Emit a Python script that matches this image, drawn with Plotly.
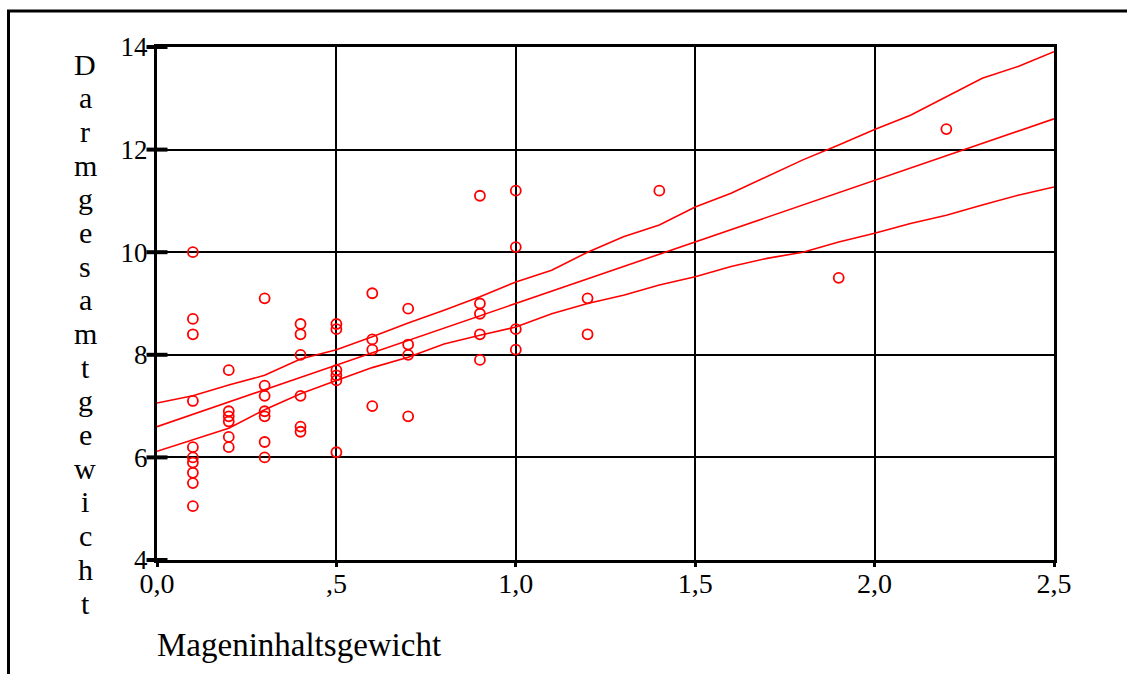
import plotly.graph_objects as go

# ---- data ----
pt_x = [0.1]*10 + [0.2]*6 + [0.3]*7 + [0.4]*6 + [0.5]*6 + [0.6]*4 + [0.7]*4 + [0.9]*5 + [1.0]*4 + [1.2]*2 + [1.4, 1.9, 2.2]
pt_y = [10.0, 8.7, 8.4, 7.1, 6.2, 6.0, 5.9, 5.7, 5.5, 5.05,
        7.7, 6.9, 6.8, 6.7, 6.4, 6.2,
        9.1, 7.4, 7.2, 6.9, 6.8, 6.3, 6.0,
        8.6, 8.4, 8.0, 7.2, 6.6, 6.5,
        8.6, 8.5, 7.7, 7.6, 7.5, 6.1,
        9.2, 8.3, 8.1, 7.0,
        8.9, 8.2, 8.0, 6.8,
        11.1, 9.0, 8.8, 8.4, 7.9,
        11.2, 10.1, 8.5, 8.1,
        9.1, 8.4,
        11.2, 9.5, 12.4]

fit_x = [0.0, 2.5]
fit_y = [6.6, 12.6]

band_x = [0.0, 0.1, 0.2, 0.3, 0.4, 0.5, 0.6, 0.7, 0.8, 0.9, 1.0, 1.1, 1.2,
          1.3, 1.4, 1.5, 1.6, 1.7, 1.8, 1.9, 2.0, 2.1, 2.2, 2.3, 2.4, 2.5]
band_upper = [7.06, 7.2, 7.41, 7.6, 7.92, 8.1, 8.35, 8.62, 8.87, 9.13, 9.42, 9.65, 10.0,
              10.3, 10.53, 10.88, 11.15, 11.47, 11.8, 12.09, 12.39, 12.67, 13.03, 13.39, 13.62, 13.91]
band_lower = [6.12, 6.35, 6.57, 6.93, 7.24, 7.5, 7.75, 7.95, 8.21, 8.38, 8.54, 8.8, 9.0,
              9.16, 9.36, 9.52, 9.72, 9.88, 10.0, 10.2, 10.37, 10.56, 10.72, 10.92, 11.11, 11.27]

x_ticks = [0.0, 0.5, 1.0, 1.5, 2.0, 2.5]
x_labels = ["0,0", ",5", "1,0", "1,5", "2,0", "2,5"]
y_ticks = [4, 6, 8, 10, 12, 14]
y_labels = ["4", "6", "8", "10", "12", "14"]

x_title = "Mageninhaltsgewicht"
y_title = "Darmgesamtgewicht"

FONT = "Liberation Serif, Times New Roman, serif"
RED = "#ff0000"

fig = go.Figure()
# y tick marks (thick dashes across the axis)
fig.add_trace(go.Scatter(x=[0]*len(y_ticks), y=y_ticks, mode="markers",
                         marker=dict(symbol="line-ew", size=15, line=dict(width=4, color="black")),
                         cliponaxis=False, hoverinfo="skip", showlegend=False))
fig.add_trace(go.Scatter(x=band_x, y=band_upper, mode="lines",
                         line=dict(color=RED, width=1.6), showlegend=False))
fig.add_trace(go.Scatter(x=fit_x, y=fit_y, mode="lines",
                         line=dict(color=RED, width=1.6), showlegend=False))
fig.add_trace(go.Scatter(x=band_x, y=band_lower, mode="lines",
                         line=dict(color=RED, width=1.6), showlegend=False))
fig.add_trace(go.Scatter(x=pt_x, y=pt_y, mode="markers",
                         marker=dict(symbol="circle-open", size=10, color=RED, line=dict(width=1.8, color=RED)),
                         showlegend=False))

fig.update_xaxes(range=[0, 2.5], tickvals=x_ticks, ticktext=x_labels,
                 showgrid=True, gridcolor="black", gridwidth=2,
                 showline=True, linecolor="black", linewidth=3, mirror=True,
                 ticks="outside", ticklen=4, tickwidth=3, tickcolor="black",
                 ticklabelstandoff=-8, zeroline=False,
                 tickfont=dict(family=FONT, size=28, color="black"))
fig.update_yaxes(range=[4, 14], tickvals=y_ticks, ticktext=y_labels,
                 showgrid=True, gridcolor="black", gridwidth=2,
                 showline=True, linecolor="black", linewidth=3, mirror=True,
                 ticks="", zeroline=False, ticklabelstandoff=1,
                 tickfont=dict(family=FONT, size=27, color="black"))

W, H = 1127, 674
L, R, T, B = 157, 73, 47, 114
pw, ph = W - L - R, H - T - B

def px_x(p):
    return (p - L) / pw

def px_y(p):
    return (H - B - p) / ph

annotations = [
    dict(text=x_title, xref="paper", yref="paper", x=px_x(155), y=px_y(645),
         xanchor="left", yanchor="middle", showarrow=False,
         font=dict(family=FONT, size=33, color="black")),
]
n = len(y_title)
top_c, bot_c = 64, 603
for i, ch in enumerate(y_title):
    yc = top_c + (bot_c - top_c) * i / (n - 1)
    annotations.append(dict(text=ch, xref="paper", yref="paper", x=px_x(85), y=px_y(yc),
                            xanchor="center", yanchor="middle", showarrow=False,
                            font=dict(family=FONT, size=30, color="black")))

shapes = [
    dict(type="line", xref="paper", yref="paper", x0=px_x(8.5), x1=px_x(8.5), y0=px_y(10), y1=px_y(700),
         line=dict(color="black", width=3)),
    dict(type="line", xref="paper", yref="paper", x0=px_x(7), x1=px_x(1140), y0=px_y(11), y1=px_y(11),
         line=dict(color="black", width=3)),
]

fig.update_layout(width=W, height=H, margin=dict(l=L, r=R, t=T, b=B),
                  paper_bgcolor="white", plot_bgcolor="white",
                  annotations=annotations, shapes=shapes,
                  font=dict(family=FONT, color="black"))

fig.write_html("out.html")
